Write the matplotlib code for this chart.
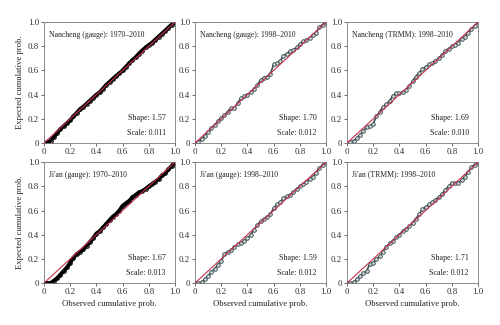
import matplotlib
matplotlib.use("Agg")
import matplotlib.pyplot as plt

plt.rcParams['font.family'] = ['Liberation Serif', 'DejaVu Serif']

titles = ["Nancheng (gauge): 1970\u20132010", "Nancheng (gauge): 1998\u20132010",
          "Nancheng (TRMM): 1998\u20132010", "Ji'an (gauge): 1970\u20132010",
          "Ji'an (gauge): 1998\u20132010", "Ji'an (TRMM): 1998\u20132010"]
shapes = ["1.57", "1.70", "1.69", "1.67", "1.59", "1.71"]
scales = ["0.011", "0.012", "0.010", "0.013", "0.012", "0.012"]

obs_x = [0.0, 0.025, 0.05, 0.075, 0.1, 0.125, 0.15, 0.175, 0.2, 0.225, 0.25, 0.275,
         0.3, 0.325, 0.35, 0.375, 0.4, 0.425, 0.45, 0.475, 0.5, 0.525, 0.55, 0.575,
         0.6, 0.625, 0.65, 0.675, 0.7, 0.725, 0.75, 0.775, 0.8, 0.825, 0.85, 0.875,
         0.9, 0.925, 0.95, 0.975, 1.0]

nan_gauge_long = [0.0, 0.005, 0.02, 0.05, 0.085, 0.115, 0.14, 0.165, 0.19, 0.22, 0.25, 0.28,
                  0.3, 0.325, 0.35, 0.375, 0.4, 0.42, 0.45, 0.48, 0.505, 0.53, 0.555, 0.575,
                  0.6, 0.63, 0.66, 0.685, 0.71, 0.74, 0.765, 0.79, 0.81, 0.83, 0.855, 0.88,
                  0.905, 0.93, 0.955, 0.98, 1.0]
nan_gauge_short = [0.0, 0.01, 0.03, 0.06, 0.09, 0.12, 0.15, 0.18, 0.21, 0.23, 0.26, 0.29,
                   0.29, 0.33, 0.37, 0.39, 0.40, 0.42, 0.45, 0.48, 0.52, 0.54, 0.55, 0.57,
                   0.65, 0.66, 0.68, 0.72, 0.74, 0.76, 0.77, 0.79, 0.82, 0.84, 0.85, 0.87,
                   0.89, 0.91, 0.96, 0.98, 1.0]
nan_trmm = [0.0, 0.01, 0.02, 0.04, 0.07, 0.1, 0.13, 0.14, 0.16, 0.22, 0.26, 0.3,
            0.32, 0.35, 0.39, 0.41, 0.41, 0.42, 0.44, 0.47, 0.51, 0.55, 0.58, 0.61,
            0.63, 0.65, 0.66, 0.68, 0.7, 0.73, 0.76, 0.78, 0.8, 0.81, 0.83, 0.86,
            0.88, 0.91, 0.94, 0.97, 1.0]
jian_gauge_long = [0.0, 0.0, 0.0, 0.02, 0.04, 0.07, 0.1, 0.13, 0.17, 0.21, 0.24, 0.26,
                   0.28, 0.31, 0.34, 0.37, 0.41, 0.43, 0.46, 0.49, 0.52, 0.55, 0.57, 0.6,
                   0.64, 0.66, 0.68, 0.71, 0.73, 0.75, 0.76, 0.78, 0.8, 0.82, 0.84, 0.86,
                   0.89, 0.91, 0.94, 0.97, 1.0]
jian_gauge_short = [0.0, 0.0, 0.01, 0.03, 0.06, 0.09, 0.12, 0.15, 0.18, 0.24, 0.26, 0.27,
                    0.3, 0.32, 0.33, 0.35, 0.37, 0.4, 0.44, 0.48, 0.51, 0.53, 0.55, 0.57,
                    0.62, 0.65, 0.67, 0.7, 0.72, 0.73, 0.75, 0.78, 0.8, 0.82, 0.84, 0.86,
                    0.88, 0.91, 0.95, 0.98, 1.0]
jian_trmm = [0.0, 0.0, 0.01, 0.03, 0.06, 0.08, 0.1, 0.16, 0.17, 0.2, 0.22, 0.26,
             0.3, 0.33, 0.35, 0.38, 0.4, 0.43, 0.45, 0.47, 0.5, 0.53, 0.57, 0.61,
             0.63, 0.65, 0.67, 0.69, 0.71, 0.74, 0.77, 0.8, 0.83, 0.83, 0.83, 0.85,
             0.88, 0.92, 0.96, 0.98, 1.0]

series = [nan_gauge_long, nan_gauge_short, nan_trmm,
          jian_gauge_long, jian_gauge_short, jian_trmm]
dense = [True, False, False, True, False, False]

tick_vals = [0, 0.2, 0.4, 0.6, 0.8, 1.0]
tick_labels = ["0", "0.2", "0.4", "0.6", "0.8", "1.0"]

fig = plt.figure(figsize=(5, 3.25), dpi=100)
lefts = [0.088, 0.39, 0.694]
bottoms = [0.56, 0.129]

for i in range(6):
    r, c = divmod(i, 3)
    ax = fig.add_axes([lefts[c], bottoms[r], 0.262, 0.372])
    ax.plot([0, 1], [0, 1], color='#c8314a', lw=0.8, zorder=3)
    if dense[i]:
        ax.plot(obs_x, series[i], '-', color='black', lw=2.8, zorder=2)
        ax.plot(obs_x, series[i], 'o', mfc='none', mec='black', ms=2.5, mew=0.8, zorder=2)
    else:
        ax.plot(obs_x, series[i], '-', color='#3d4f52', lw=1.2, zorder=2)
        ax.plot(obs_x, series[i], 'o', mfc='#cfd8d8', mec='#2f4448', ms=2.6, mew=0.6, zorder=2)
    ax.set_xlim(0, 1)
    ax.set_ylim(0, 1)
    ax.set_xticks(tick_vals)
    ax.set_xticklabels(tick_labels)
    ax.set_yticks(tick_vals)
    ax.set_yticklabels(tick_labels)
    ax.tick_params(labelsize=6.5, length=2, width=0.5, pad=1.5, colors='#333333')
    for s in ax.spines.values():
        s.set_color('#777777')
        s.set_linewidth(0.6)
    ax.text(0.04, 0.88, titles[i], transform=ax.transAxes, fontsize=5.6, color='#222222')
    ax.text(0.93, 0.19, "Shape: " + shapes[i], transform=ax.transAxes, fontsize=5.8,
            ha='right', color='#222222')
    ax.text(0.93, 0.07, "Scale: " + scales[i], transform=ax.transAxes, fontsize=5.8,
            ha='right', color='#222222')
    if c == 0:
        ax.set_ylabel("Expected cumulative prob.", fontsize=6.2, labelpad=3, color='#222222')
    if r == 1:
        ax.set_xlabel("Observed cumulative prob.", fontsize=6.2, labelpad=3, color='#222222')

fig.savefig("out.png", dpi=100, facecolor='white')
